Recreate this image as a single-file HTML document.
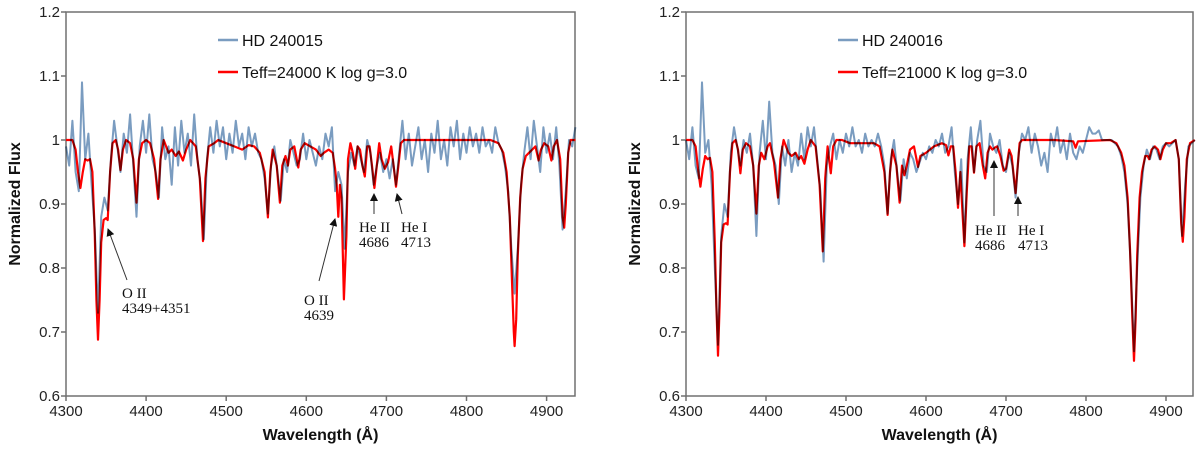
<!DOCTYPE html>
<html><head><meta charset="utf-8"><style>
html,body{margin:0;padding:0;background:#fff;}
svg{display:block;font-family:"Liberation Sans",sans-serif;}
.tick{font-size:15px;fill:#222;}
.ttl{font-size:16px;font-weight:bold;fill:#111;}
.leg{font-size:16px;fill:#111;}
.ann{font-family:"Liberation Serif",serif;font-size:15px;fill:#111;}
.obs{mix-blend-mode:multiply;}
</style></head><body>
<svg id="chart" width="1200" height="449" viewBox="0 0 1200 449">
<defs><marker id="ah" markerWidth="8" markerHeight="8" refX="7" refY="4" orient="auto" markerUnits="userSpaceOnUse"><path d="M0,0 L8,4 L0,8 z" fill="#111"/></marker></defs>
</svg>
<script>
// ---- data ----
const obsWaveStart = 4300, obsWaveStep = 4;
const obsLeft = [0.99,0.96,1.03,0.95,0.92,1.09,0.97,1.01,0.93,0.86,0.73,0.88,0.91,0.89,0.97,1.03,0.99,0.95,1.01,0.98,1.04,0.96,0.88,0.99,1.03,0.98,1.04,0.97,0.95,0.91,1.02,0.97,0.99,0.93,1.02,0.96,1.03,0.98,1.01,0.96,1.04,0.97,0.93,0.845,0.97,1.02,0.98,1.03,0.99,1.02,0.97,1.01,0.98,1.03,0.99,1.01,0.97,1.02,0.99,1.01,0.98,0.97,0.94,0.885,0.96,0.99,0.95,0.905,0.97,0.95,1.0,0.98,0.96,0.97,1.01,0.97,1.0,0.98,0.96,0.99,0.97,1.01,0.99,1.02,0.92,0.95,0.93,0.83,0.95,0.98,0.96,0.99,0.97,0.95,1.0,0.98,0.93,0.96,0.98,0.95,0.97,0.94,0.97,0.93,0.98,1.03,0.97,1.01,0.96,0.99,1.02,0.97,1.0,0.95,1.01,0.98,1.03,0.97,1.0,0.96,1.02,0.99,1.03,0.97,1.01,0.98,1.02,0.99,1.01,0.98,1.02,0.99,1.0,0.98,1.02,0.995,0.985,0.96,0.92,0.83,0.76,0.83,0.93,0.98,1.02,0.97,1.03,0.99,0.95,1.02,0.98,1.01,0.97,1.02,0.96,0.86,0.92,1.0,0.99,1.02];
const obsRight = [1.0,0.97,1.02,0.96,0.94,1.09,0.98,1.0,0.93,0.8,0.68,0.85,0.9,0.88,0.98,1.02,0.99,0.96,1.0,0.98,1.01,0.96,0.85,0.98,1.03,0.97,1.06,0.98,0.96,0.9,0.99,0.96,1.0,0.95,0.98,0.96,1.01,0.97,1.02,0.99,1.02,0.97,0.92,0.81,0.96,0.99,1.01,0.97,1.0,0.98,1.01,0.99,1.02,0.99,1.0,0.98,1.01,0.99,1.0,0.99,1.01,0.99,0.96,0.885,0.97,1.0,0.95,0.905,0.97,0.94,0.98,0.97,0.95,0.965,0.98,0.97,0.99,0.98,1.0,0.99,1.01,0.98,0.99,1.02,0.95,0.9,0.97,0.84,0.97,1.02,0.95,1.0,1.03,0.96,0.95,1.01,0.99,0.98,1.0,0.96,0.95,0.98,0.96,0.91,0.98,1.01,1.0,1.02,0.98,1.01,0.99,0.96,0.98,0.95,1.01,0.99,1.02,0.98,1.0,0.97,1.01,0.98,0.97,0.99,0.98,1.0,1.02,1.01,1.01,1.015,1.0,1.0,1.0,1.0,0.995,0.99,0.975,0.95,0.9,0.8,0.67,0.8,0.91,0.96,0.985,0.97,0.99,0.985,0.97,0.99,0.995,0.99,0.995,1.0,0.97,0.85,0.93,0.99,0.995,1.0];
const modelLeftWave = [4300,4308,4312,4315,4318,4321,4324,4327,4330,4333,4336,4338,4340,4342,4344,4347,4350,4352,4355,4358,4362,4365,4368,4371,4375,4380,4384,4388,4391,4395,4400,4405,4410,4415,4418,4422,4428,4432,4437,4441,4446,4450,4455,4462,4467,4471,4474,4478,4485,4490,4500,4510,4520,4528,4535,4542,4548,4552,4555,4558,4563,4567,4570,4574,4577,4580,4585,4590,4593,4598,4605,4612,4618,4622,4628,4633,4636,4638,4640,4642,4644,4647,4650,4652,4655,4658,4661,4664,4667,4670,4673,4676,4679,4682,4685,4688,4691,4694,4698,4702,4706,4709,4712,4715,4718,4722,4800,4830,4840,4846,4850,4854,4857,4859,4860,4862,4864,4867,4870,4874,4878,4882,4886,4890,4893,4897,4902,4906,4909,4913,4917,4920,4922,4924,4927,4930,4936];
const modelLeftFlux = [1.0,1.0,0.985,0.95,0.925,0.95,0.97,0.968,0.97,0.95,0.85,0.75,0.688,0.75,0.84,0.875,0.878,0.875,0.95,0.995,1.0,0.985,0.953,0.985,1.0,0.995,0.97,0.902,0.97,0.995,1.0,0.995,0.97,0.908,0.97,1.0,0.98,0.985,0.975,0.982,0.968,0.985,1.0,0.99,0.94,0.842,0.94,0.99,0.995,1.0,0.995,0.99,0.985,0.992,0.99,0.98,0.95,0.879,0.95,0.985,0.96,0.902,0.96,0.975,0.96,0.985,0.99,0.957,0.985,0.995,0.99,0.985,0.975,0.98,0.985,0.98,0.955,0.93,0.88,0.93,0.91,0.751,0.85,0.97,0.995,0.98,0.955,0.99,0.985,0.96,0.943,0.99,0.99,0.96,0.925,0.96,0.995,0.97,0.955,0.965,0.99,0.96,0.927,0.96,0.995,1.0,1.0,1.0,0.995,0.98,0.95,0.88,0.77,0.7,0.678,0.72,0.82,0.91,0.955,0.975,0.98,0.985,0.99,0.968,0.985,0.995,0.99,0.968,0.99,1.0,0.97,0.88,0.863,0.9,0.98,1.0,1.0];
const modelRightWave = [4300,4308,4312,4315,4318,4321,4324,4327,4330,4333,4336,4338,4340,4342,4344,4347,4350,4352,4355,4358,4362,4365,4368,4371,4375,4380,4384,4388,4391,4394,4398,4402,4405,4410,4415,4418,4422,4428,4432,4437,4441,4444,4448,4452,4456,4462,4467,4471,4474,4477,4481,4484,4488,4495,4505,4520,4535,4542,4548,4552,4555,4558,4563,4567,4570,4573,4576,4580,4585,4590,4593,4600,4610,4620,4625,4628,4631,4634,4637,4640,4643,4645,4648,4651,4654,4657,4660,4663,4667,4671,4674,4677,4680,4683,4686,4689,4693,4697,4700,4704,4707,4710,4712,4714,4717,4720,4760,4784,4787,4790,4830,4838,4844,4848,4852,4855,4858,4860,4862,4864,4867,4870,4874,4877,4879,4882,4886,4890,4893,4896,4900,4906,4912,4916,4919,4921,4923,4926,4930,4936];
const modelRightFlux = [1,1,0.99,0.955,0.927,0.955,0.975,0.97,0.972,0.95,0.84,0.74,0.663,0.74,0.84,0.868,0.87,0.868,0.95,0.995,1.0,0.985,0.948,0.985,0.995,0.99,0.96,0.885,0.96,0.98,0.97,0.99,0.995,0.965,0.91,0.97,1.0,0.98,0.975,0.98,0.97,0.975,0.963,0.985,1.0,0.99,0.93,0.826,0.94,0.99,0.948,0.99,1.0,1.0,0.995,0.995,0.995,0.99,0.95,0.883,0.95,0.985,0.96,0.902,0.96,0.945,0.96,0.985,0.99,0.958,0.975,0.98,0.99,0.995,0.992,0.976,0.99,0.99,0.95,0.894,0.95,0.9,0.834,0.92,0.99,0.99,0.949,0.99,0.995,0.96,0.94,0.98,0.99,0.985,0.988,0.99,0.975,0.952,0.955,0.985,0.975,0.94,0.917,0.95,0.995,1.0,1.0,0.998,0.988,0.998,1.0,0.995,0.98,0.96,0.91,0.83,0.72,0.655,0.72,0.82,0.91,0.95,0.975,0.975,0.97,0.985,0.99,0.985,0.97,0.985,0.995,0.995,1.0,0.97,0.87,0.841,0.88,0.97,0.995,1.0];
const xTicks = [4300,4400,4500,4600,4700,4800,4900];
const yTicks = [0.6,0.7,0.8,0.9,1,1.1,1.2];
const yTickLabels = ["0.6","0.7","0.8","0.9","1","1.1","1.2"];

const NS = "http://www.w3.org/2000/svg";
const svg = document.getElementById('chart');
function mk(tag, attrs, parent) {
  const e = document.createElementNS(NS, tag);
  for (const k in attrs) e.setAttribute(k, attrs[k]);
  (parent || svg).appendChild(e);
  return e;
}

function panel(cfg) {
  const g = mk('g', {});
  
  
  const X = w => cfg.x0 + (w - 4300) * cfg.sx;
  const Y = f => 396 - (f - 0.6) * 640;
  const frame = mk('rect', {x: cfg.x0, y: 12, width: cfg.x1 - cfg.x0, height: 384, fill: 'none', stroke: '#707070', 'stroke-width': 1.5}, g);
  
  
  yTicks.forEach((v, i) => {
    const t = mk('line', {x1: cfg.x0 - 5, x2: cfg.x0, y1: Y(v), y2: Y(v), stroke: '#707070', 'stroke-width': 1.5}, g);
    
    
    const l = mk('text', {x: cfg.x0 - 6, y: Y(v) + 5, 'text-anchor': 'end', class: 'tick'}, g);
    l.textContent = yTickLabels[i];
    
    
  });
  xTicks.forEach(v => {
    const t = mk('line', {x1: X(v), x2: X(v), y1: 396, y2: 401, stroke: '#707070', 'stroke-width': 1.5}, g);
    
    
    const l = mk('text', {x: X(v), y: 416, 'text-anchor': 'middle', class: 'tick'}, g);
    l.textContent = String(v);
    
    
  });
  const yt = mk('text', {x: 0, y: 0, transform: `translate(${cfg.x0 - 46},204) rotate(-90)`, 'text-anchor': 'middle', class: 'ttl'}, g);
  yt.textContent = 'Normalized Flux';
  
  
  const xt = mk('text', {x: (cfg.x0 + cfg.x1) / 2, y: 440, 'text-anchor': 'middle', class: 'ttl'}, g);
  xt.textContent = 'Wavelength (Å)';
  
  
  // model
  let d = '';
  cfg.mw.forEach((w, i) => { d += (i ? 'L' : 'M') + X(w).toFixed(1) + ',' + Y(cfg.mf[i]).toFixed(1); });
  const mp = mk('path', {d: d, fill: 'none', stroke: '#ff0000', 'stroke-width': 2.2, 'stroke-linejoin': 'round'}, g);
  
  
  // observed
  d = '';
  cfg.obs.forEach((f, i) => { const w = obsWaveStart + i * obsWaveStep; d += (i ? 'L' : 'M') + X(w).toFixed(1) + ',' + Y(f).toFixed(1); });
  const op = mk('path', {d: d, fill: 'none', stroke: '#7a9cc0', 'stroke-width': 2, 'stroke-linejoin': 'round', class: 'obs'}, g);
  
  
  // legend
  const lx = cfg.x0 + 152;
  const l1 = mk('line', {x1: lx, x2: lx + 20, y1: 40, y2: 40, stroke: '#7a9cc0', 'stroke-width': 2.5}, g);
  
  
  const t1 = mk('text', {x: lx + 24, y: 46, class: 'leg'}, g);
  t1.textContent = cfg.star;
  
  
  const l2 = mk('line', {x1: lx, x2: lx + 20, y1: 72, y2: 72, stroke: '#ff0000', 'stroke-width': 2.5}, g);
  
  
  const t2 = mk('text', {x: lx + 24, y: 78, class: 'leg'}, g);
  t2.textContent = cfg.model;
  
  
  // annotations
  cfg.ann.forEach(a => {
    const ar = mk('line', {x1: a.ax1, y1: a.ay1, x2: a.ax2, y2: a.ay2, stroke: '#333', 'stroke-width': 1, 'marker-end': 'url(#ah)'}, g);
    
    
    const ta = mk('text', {x: a.tx, y: a.ty, class: 'ann'}, g);
    ta.textContent = a.l1;
    
    
    const tb = mk('text', {x: a.tx, y: a.ty + 15, class: 'ann'}, g);
    tb.textContent = a.l2;
    
    
  });
}

panel({name: 'left-panel-hd240015', x0: 66, x1: 575, sx: 0.801, obs: obsLeft, mw: modelLeftWave, mf: modelLeftFlux,
  star: 'HD 240015', model: 'Teff=24000 K log g=3.0',
  ann: [
    {l1: 'O II', l2: '4349+4351', tx: 122, ty: 298, ax1: 127, ay1: 280, ax2: 108, ay2: 229},
    {l1: 'O II', l2: '4639', tx: 304, ty: 305, ax1: 319, ay1: 281, ax2: 335, ay2: 219},
    {l1: 'He II', l2: '4686', tx: 359, ty: 232, ax1: 374, ay1: 214, ax2: 374, ay2: 194},
    {l1: 'He I', l2: '4713', tx: 401, ty: 232, ax1: 402, ay1: 214, ax2: 397, ay2: 194}
  ]});
panel({name: 'right-panel-hd240016', x0: 686, x1: 1193, sx: 0.8, obs: obsRight, mw: modelRightWave, mf: modelRightFlux,
  star: 'HD 240016', model: 'Teff=21000 K log g=3.0',
  ann: [
    {l1: 'He II', l2: '4686', tx: 975, ty: 235, ax1: 994, ay1: 216, ax2: 994, ay2: 161},
    {l1: 'He I', l2: '4713', tx: 1018, ty: 235, ax1: 1018, ay1: 216, ax2: 1018, ay2: 197}
  ]});
</script>
</body></html>
